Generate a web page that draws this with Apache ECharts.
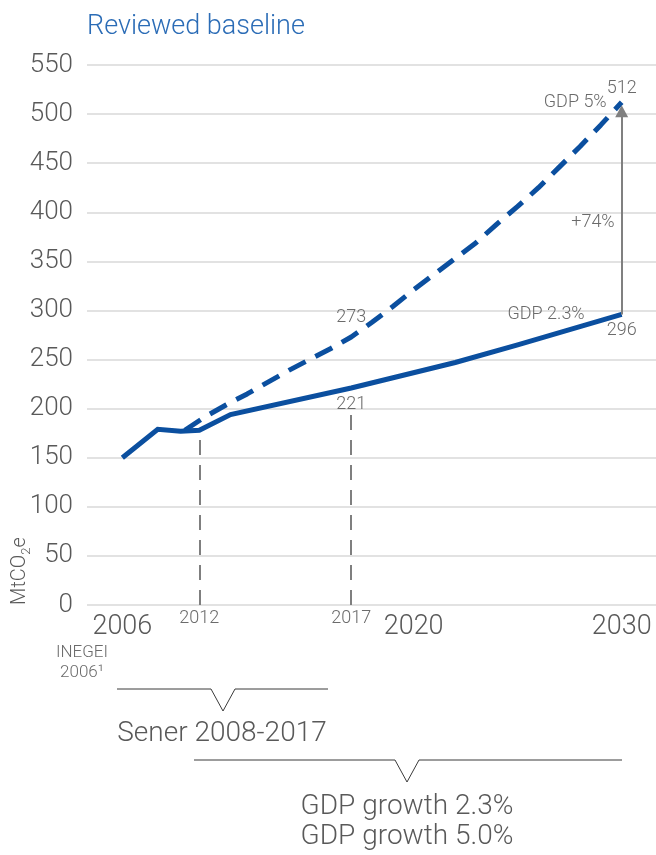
<!DOCTYPE html>
<html><head><meta charset="utf-8">
<script src="https://cdn.jsdelivr.net/npm/echarts@6/dist/echarts.min.js"></script>
<style>html,body{margin:0;padding:0;background:#fff}#c{width:656px;height:855px}</style>
</head><body><div id="c"></div>
<script>
// ---- data (x = position on the linear year scale of the picture) ----
const solidYears  = [2006, 2007.7, 2008.8, 2009.7, 2011.2, 2017, 2022, 2025, 2030];
const solidValues = [150, 179, 177, 178, 194, 221, 247, 265, 296];
const dashedYears  = [2009, 2010, 2011, 2012, 2013, 2014, 2015, 2016, 2017, 2018, 2019, 2020, 2021, 2022, 2023, 2024, 2025, 2026, 2027, 2028, 2029, 2030];
const dashedValues = [178, 192, 204, 215, 227, 239, 250, 261, 273, 288, 304, 321, 337, 353, 369, 388, 406, 425, 446, 467, 489, 512];
const solidLabelYears  = [2017, 2030];
const dashedLabelYears = [2017, 2030];
const xTickYears = [2006, 2020, 2030];
const markerYears  = [2009.7, 2017];
const markerLabels = ['2012', '2017'];
const markerTops   = [178, 196];
const arrowFrom = 296, arrowTo = 503, arrowLabelValue = 390;
const arrowLabel = '+74%';
const yMin = 0, yMax = 550, yStep = 50;

const BLUE = '#0b4f9f', GREY = '#595959', LGREY = '#6b6b6b';
const FONT = 'Roboto';
const SMALL = 18, BIG = 28;

function mkData(xs, ys, labelYears, pos, dist) {
  return xs.map((x, i) => {
    const item = { value: [x, ys[i]] };
    if (labelYears.indexOf(x) >= 0) {
      item.label = { show: true, position: pos, distance: dist, formatter: String(ys[i]),
        fontSize: SMALL, color: LGREY, fontFamily: FONT, fontWeight: 300 };
    }
    return item;
  });
}
const solidData = mkData(solidYears, solidValues, solidLabelYears, 'bottom', 7);
const dashedData = mkData(dashedYears, dashedValues, dashedLabelYears, 'top', 5);
dashedData[dashedYears.indexOf(2017)].label.distance = 10;

const chart = echarts.init(document.getElementById('c'), null, { renderer: 'canvas' });
const smallLbl = { fontSize: SMALL, color: LGREY, fontFamily: FONT, fontWeight: 300 };

chart.setOption({
  animation: false,
  textStyle: { fontFamily: FONT },
  title: { text: 'Reviewed baseline', left: 82, top: 9,
    textStyle: { fontSize: 27, fontWeight: 300, color: '#2b6cb6', fontFamily: FONT } },
  grid: { left: 87, right: 0, top: 65, bottom: 250, containLabel: false },
  xAxis: {
    type: 'value', min: 2004.3, max: 2031.65,
    axisLine: { show: false }, axisTick: { show: false }, splitLine: { show: false },
    axisLabel: { customValues: xTickYears, fontSize: 27, color: GREY, margin: 9,
      fontFamily: FONT, fontWeight: 300, formatter: v => String(v) }
  },
  yAxis: {
    type: 'value', min: yMin, max: yMax, interval: yStep,
    axisLine: { show: false }, axisTick: { show: false },
    splitLine: { lineStyle: { color: '#d9d9d9', width: 1.5 } },
    axisLabel: { fontSize: 26, color: GREY, margin: 14, fontFamily: FONT, fontWeight: 300 }
  },
  series: [
    {
      type: 'line', name: 'GDP 5%', data: dashedData, symbol: 'circle', symbolSize: 0, showSymbol: true, z: 3,
      itemStyle: { color: BLUE },
      lineStyle: { color: BLUE, width: 5, type: [19, 11], cap: 'butt' },
      markPoint: {
        symbol: 'circle', symbolSize: 0,
        label: Object.assign({ position: 'left', distance: 15 }, smallLbl),
        data: [{ coord: [2030, 512], label: { formatter: 'GDP 5%' } }]
      }
    },
    {
      type: 'line', name: 'GDP 2.3%', data: solidData, symbol: 'circle', symbolSize: 0, showSymbol: true, z: 4,
      itemStyle: { color: BLUE },
      lineStyle: { color: BLUE, width: 5, join: 'miter' },
      markPoint: {
        symbol: 'circle', symbolSize: 0,
        label: Object.assign({ position: 'left' }, smallLbl),
        data: [
          { coord: [2030, 296], label: { formatter: 'GDP 2.3%', distance: 37 } },
          { coord: [2030, arrowLabelValue], label: { formatter: arrowLabel, distance: 7 } }
        ]
      },
      markLine: {
        silent: true, symbol: ['none', 'none'],
        data: markerYears.map((x, i) => [
          { coord: [x, 0], lineStyle: { color: '#7f7f7f', width: 2, type: [15, 10] },
            label: Object.assign({ show: true, position: 'start', distance: 4, formatter: markerLabels[i] }, smallLbl) },
          { coord: [x, markerTops[i]] }
        ]).concat([[
          { coord: [2030, arrowFrom], symbol: 'none',
            lineStyle: { color: '#808080', width: 2, type: 'solid' }, label: { show: false } },
          { coord: [2030, arrowTo], symbol: 'triangle', symbolSize: [13, 12] }
        ]])
      }
    }
  ],
  graphic: [
    { type: 'text', x: 20, y: 571, rotation: Math.PI / 2,
      style: { text: '{a|MtCO}{s|2}{a|e}', align: 'center', verticalAlign: 'middle',
        rich: { a: { fontSize: 20, fill: GREY, fontFamily: FONT, fontWeight: 300, lineHeight: 26, verticalAlign: 'middle' },
                s: { fontSize: 13, fill: GREY, fontFamily: FONT, fontWeight: 300, lineHeight: 26, verticalAlign: 'bottom' } } } },
    { type: 'text', x: 82, y: 653, style: { text: 'INEGEI', align: 'center', verticalAlign: 'middle', fontSize: SMALL - 1, fill: LGREY, fontFamily: FONT, fontWeight: 300 } },
    { type: 'text', x: 82, y: 673, style: { text: '2006¹', align: 'center', verticalAlign: 'middle', fontSize: SMALL - 1, fill: LGREY, fontFamily: FONT, fontWeight: 300 } },
    { type: 'polyline', shape: { points: [[117, 689], [211, 689], [223, 711], [235, 689], [328, 689]] },
      style: { stroke: '#3a3a3a', lineWidth: 1, fill: null } },
    { type: 'text', x: 222, y: 734, style: { text: 'Sener 2008-2017', align: 'center', verticalAlign: 'middle', fontSize: BIG, fill: GREY, fontFamily: FONT, fontWeight: 300 } },
    { type: 'polyline', shape: { points: [[194, 760], [395, 760], [407, 782], [419, 760], [622, 760]] },
      style: { stroke: '#3a3a3a', lineWidth: 1, fill: null } },
    { type: 'text', x: 407, y: 807, style: { text: 'GDP growth 2.3%', align: 'center', verticalAlign: 'middle', fontSize: BIG, fill: GREY, fontFamily: FONT, fontWeight: 300 } },
    { type: 'text', x: 407, y: 837, style: { text: 'GDP growth 5.0%', align: 'center', verticalAlign: 'middle', fontSize: BIG, fill: GREY, fontFamily: FONT, fontWeight: 300 } }
  ]
});
</script>
</body></html>
